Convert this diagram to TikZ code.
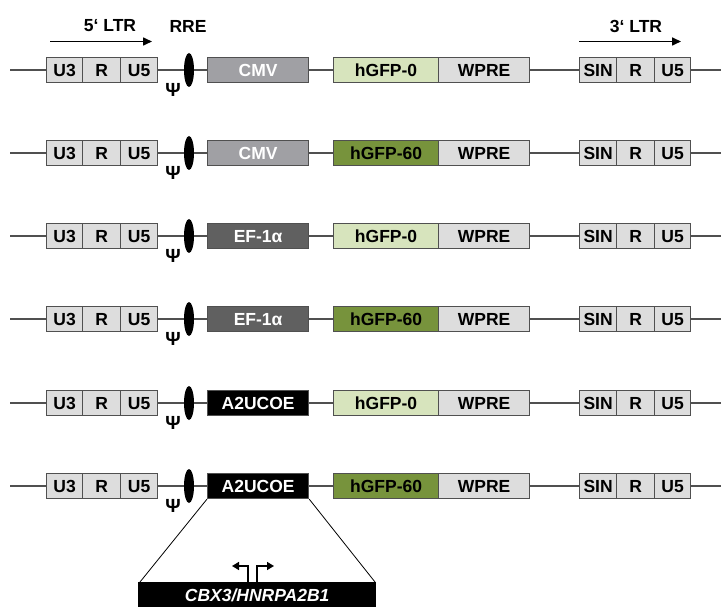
\documentclass[tikz,border=0pt]{standalone}
\usepackage{fontspec}
\setmainfont{Liberation Sans}
\usetikzlibrary{arrows.meta,shapes.geometric}
\definecolor{boxgray}{HTML}{DDDDDD}
\definecolor{cmvgray}{HTML}{A0A0A4}
\definecolor{efgray}{HTML}{606060}
\definecolor{gfplight}{HTML}{D7E4BD}
\definecolor{gfpdark}{HTML}{77933C}
\definecolor{linegray}{HTML}{505050}
\begin{document}
\begin{tikzpicture}[x=1pt,y=-1pt,
  lbl/.style={font=\fontsize{17.5}{20}\selectfont\bfseries, text=black, inner sep=0pt},
  seg/.style={lbl, draw=linegray, line width=1.2pt, minimum height=25pt, anchor=west, fill=boxgray,
    text height=12.5pt, text depth=0pt},
  backbone/.style={draw=linegray, line width=1.3pt},
  rre/.style={ellipse, fill=black, minimum width=10pt, minimum height=34pt, inner sep=0pt},
  psi/.style={font=\fontsize{19}{19}\selectfont\bfseries, inner sep=0pt},
  ltrarrow/.style={line width=1.6pt, -{Triangle[length=9pt,width=8pt]}},
  zoomline/.style={draw=black, line width=0.8pt},
  promarrow/.style={line width=1.5pt, -{Triangle[length=7pt,width=8pt]}}
]
\useasboundingbox[fill=white] (0,0) rectangle (721,607);

% header
\node[lbl] (ltr5) at (110,26) {5‘ LTR};
\node[lbl] (rretxt) at (188,26) {RRE};
\node[lbl] (ltr3) at (636,26) {3‘ LTR};
\coordinate (a5s) at (50,41.5);
\coordinate (a5e) at (152,41.5);
\coordinate (a3s) at (579,41.5);
\coordinate (a3e) at (681,41.5);
\draw[ltrarrow] (a5s) -- (a5e);
\draw[ltrarrow] (a3s) -- (a3e);

\foreach \r/\y/\ptxt/\pfill/\ptc/\gtxt/\gfill in {
  1/70/CMV/cmvgray/white/hGFP-0/gfplight,
  2/153/CMV/cmvgray/white/hGFP-60/gfpdark,
  3/236/EF-1α/efgray/white/hGFP-0/gfplight,
  4/319/EF-1α/efgray/white/hGFP-60/gfpdark,
  5/403/A2UCOE/black/white/hGFP-0/gfplight,
  6/486/A2UCOE/black/white/hGFP-60/gfpdark}{
  \coordinate (start-\r) at (10,\y);
  \coordinate (end-\r) at (721,\y);
  \node[seg, minimum width=36pt] (u3-\r) at (46,\y) {U3};
  \node[seg, minimum width=38pt] (r-\r) at (82,\y) {R};
  \node[seg, minimum width=37pt] (u5-\r) at (120,\y) {U5};
  \node[rre] (rre-\r) at (189,\y) {};
  \node[psi] (psi-\r) at (173,\y+20) {Ψ};
  \node[seg, minimum width=101pt, fill=\pfill, text=\ptc] (prom-\r) at (207,\y) {\ptxt};
  \node[seg, minimum width=105pt, fill=\gfill] (gfp-\r) at (333,\y) {\gtxt};
  \node[seg, minimum width=91pt] (wpre-\r) at (438,\y) {WPRE};
  \node[seg, minimum width=37pt] (sin-\r) at (579,\y) {SIN};
  \node[seg, minimum width=38pt] (rb-\r) at (616,\y) {R};
  \node[seg, minimum width=36pt] (u5b-\r) at (654,\y) {U5};
  \draw[backbone] (start-\r) -- (u3-\r.west);
  \draw[backbone] (u5-\r.east) -- (rre-\r.west);
  \draw[backbone] (rre-\r.east) -- (prom-\r.west);
  \draw[backbone] (prom-\r.east) -- (gfp-\r.west);
  \draw[backbone] (wpre-\r.east) -- (sin-\r.west);
  \draw[backbone] (u5b-\r.east) -- (end-\r);
}

% zoom of A2UCOE
\node[lbl, fill=black, text=white, minimum width=238pt, minimum height=26pt, anchor=north west,
  text height=12.5pt, text depth=0pt,
  font=\fontsize{17.5}{20}\selectfont\bfseries\itshape] (cbx) at (138,582) {CBX3/HNRPA2B1};
\coordinate (zl) at (140,582);
\coordinate (zr) at (375,582);
\draw[zoomline] (prom-6.south west) -- (zl);
\draw[zoomline] (prom-6.south east) -- (zr);
\coordinate (stl) at (248,582);
\coordinate (str) at (257,582);
\coordinate (tipl) at (232,566);
\coordinate (tipr) at (274,566);
\draw[promarrow] (stl) |- (tipl);
\draw[promarrow] (str) |- (tipr);
\end{tikzpicture}
\end{document}
